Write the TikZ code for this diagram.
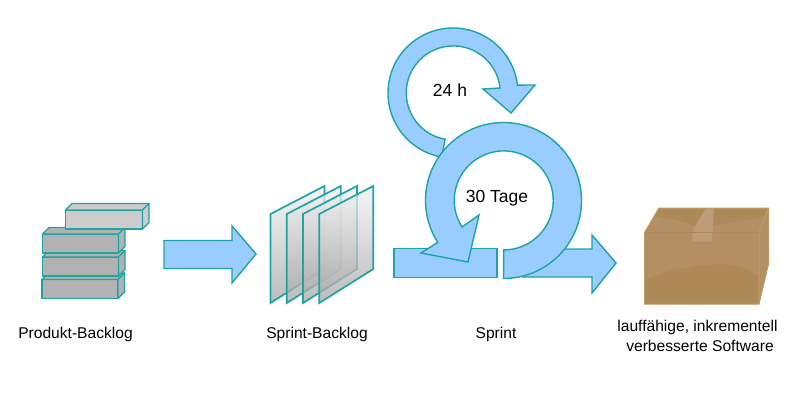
\documentclass[tikz,border=0pt]{standalone}
\usepackage{fontspec}
\setmainfont{Liberation Sans}
\definecolor{arrowfill}{HTML}{99CCFF}
\definecolor{tealline}{HTML}{1FA3A3}
\definecolor{boxfront}{HTML}{B39064}
\definecolor{boxlow}{HTML}{AE8958}
\definecolor{boxedge}{HTML}{BE9A66}
\begin{document}
\begin{tikzpicture}[
        x=1pt,y=-1pt,
        labelstyle/.style={font=\fontsize{15.6}{20}\selectfont,align=center},
        looplabel/.style={font=\fontsize{17.5}{20}\selectfont},
        flowstyle/.style={draw=tealline,fill=arrowfill,line width=1.4pt,line join=miter},
        brickstyle/.style={draw=tealline,line width=1.4pt,line join=round},
        sheetstyle/.style={draw=tealline,line width=1.7pt}
        ]

        \useasboundingbox (0,0) rectangle (800,400);

        % backlog stack
        \foreach \bx/\by/\bw/\bcol in {42/279.5/76/black!30, 42.5/257/76/black!30, 42.5/234/76/black!30, 65.5/210/77/black!20} {
            \draw[brickstyle,fill=\bcol] (\bx,\by) rectangle ++(\bw,19);
            \draw[brickstyle,fill=\bcol] (\bx,\by) -- ++(6.5,-6.5) -- ++(\bw,0) -- ++(-6.5,6.5) -- cycle;
            \draw[brickstyle,fill=\bcol] (\bx+\bw,\by) -- ++(6.5,-6.5) -- ++(0,19) -- ++(-6.5,6.5) -- cycle;
        }

        \draw[flowstyle] (164,240.5) -- (232,240.5) -- (232,226) -- (256,254) -- (232,283) -- (232,268.5) -- (164,268.5) -- cycle;

        % sheets
        \foreach \sx in {270.5,286.8,303,319.3} {
            \shade[top color=black!5,bottom color=black!35,fill opacity=.75] (\sx,214) -- ++(54,-28) -- ++(0,83) -- ++(-54,34) -- cycle;
            \draw[sheetstyle] (\sx,214) -- ++(54,-28) -- ++(0,83) -- ++(-54,34) -- cycle;
        }

        % daily loop
        \draw[flowstyle] (453,93) ++(100:65) arc (100:353:65) -- (535,85) -- (511,113) -- (483,89) -- (500,88) arc (354:100:47) -- cycle;

        % sprint loop
        \draw[flowstyle] (394,248.5) rectangle (497,277.5);
        \draw[flowstyle] (540,249) -- (592,249) -- (592,235) -- (616,263) -- (592,293) -- (592,277) -- (523,277) -- cycle;
        \draw[flowstyle] (503.5,278.5) arc (90:-212.5:78) -- (421,253) -- (468,262) -- (479,215) -- (462,227) arc (147.5:450:49.5) -- cycle;

        % cardboard box
        \fill[boxfront] (644.5,232.5) -- (659,208) -- (768.5,208) -- (768.5,264) -- (759,304) -- (644.5,304) -- cycle;
        \fill[boxlow] (644.5,280) .. controls (680,265) and (710,263) .. (735,265) .. controls (745,267) and (752,272) .. (759,277) -- (759,304) -- (644.5,304) -- cycle;
        \fill[boxlow] (659,208) -- (768.5,208) -- (764,216) .. controls (745,222) and (725,222) .. (712,226) -- (694,226) .. controls (680,220) and (670,218) .. (654,216) -- cycle;
        \fill[boxfront!88!white] (706,208) -- (714,208) -- (712,241) -- (692,241) -- (693,230) -- cycle;
        \draw[boxlow,line width=.8pt] (644.5,232.5) -- (759,232.5);
        \draw[boxedge,line width=1pt] (759,232.5) -- (768.5,208) (759,232.5) -- (759,304);
        \draw[boxedge,line width=1pt] (644.5,232.5) -- (659,208) -- (768.5,208) -- (768.5,264) -- (759,304) -- (644.5,304) -- cycle;

        \node[looplabel] (dailylabel) at (450,90) {24 h};
        \node[looplabel] (sprintlabel) at (497,198) {30 Tage};
        \node[labelstyle] (productlabel) at (75.5,334) {Produkt-Backlog};
        \node[labelstyle] (backloglabel) at (317,334) {Sprint-Backlog};
        \node[labelstyle] (runlabel) at (496,334) {Sprint};
        \node[labelstyle] (softwarelabel) at (697.5,336) {lauffähige, inkrementell\\\hspace*{5pt}verbesserte Software};

    \end{tikzpicture}
\end{document}
